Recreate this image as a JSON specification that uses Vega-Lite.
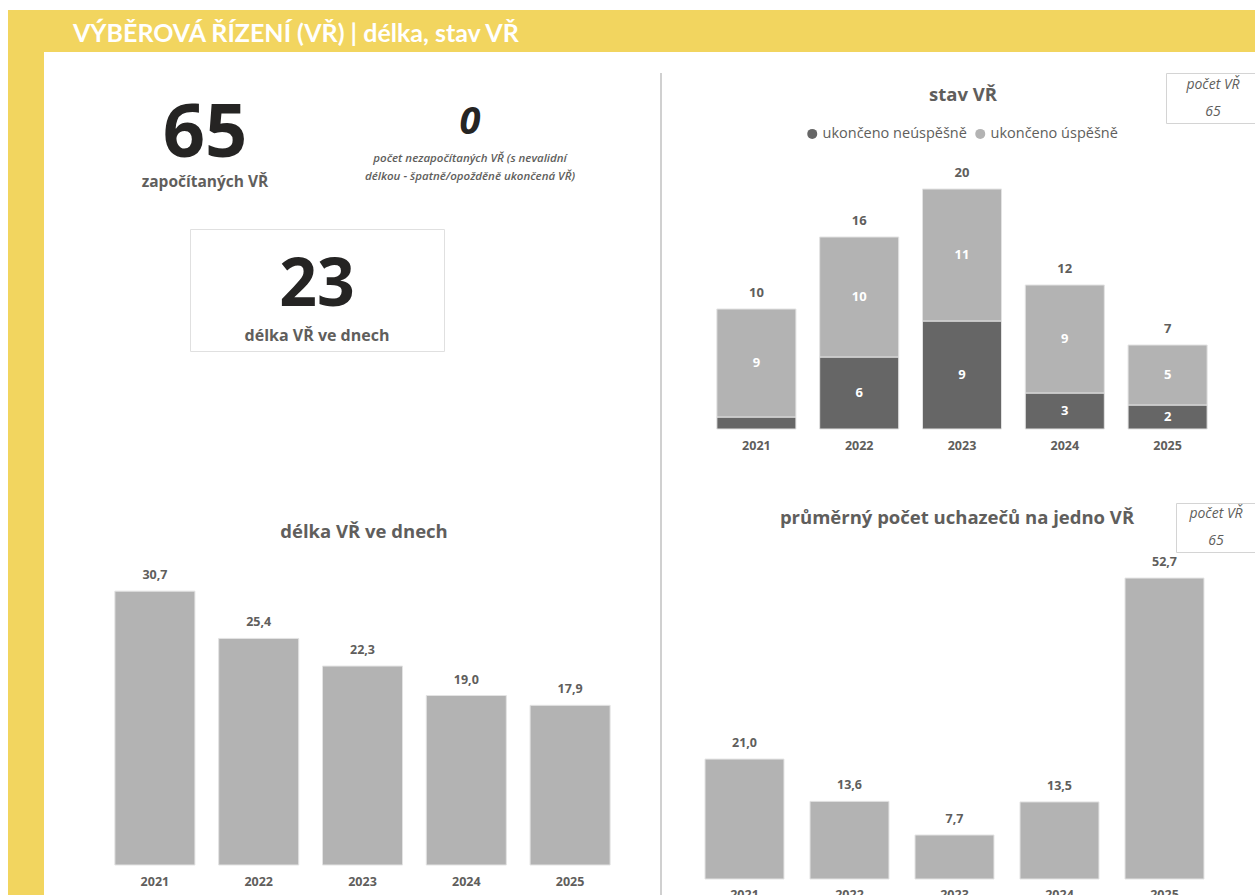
{
  "$schema": "https://vega.github.io/schema/vega-lite/v6.json",
  "background": "white",
  "padding": {"left": 8, "top": 10, "right": 0, "bottom": 0},
  "spacing": 0,
  "config": {
    "font": "Open Sans",
    "view": {"stroke": null},
    "concat": {"spacing": 0},
    "locale": {"number": {"decimal": ",", "thousands": " ", "grouping": [3], "currency": ["", " Kč"]}},
    "axis": {"ticks": false, "domain": false, "grid": false, "labelPadding": 10, "labelFontSize": 12.5, "labelFontWeight": "bold", "labelColor": "#605E5C", "labelFont": "Open Sans"}
  },
  "datasets": {
    "header": [{"text": "VÝBĚROVÁ ŘÍZENÍ (VŘ) | délka, stav VŘ"}],
    "kpi": [
      {"key": "counted", "value": "65", "label": "započítaných VŘ"},
      {"key": "uncounted", "value": "0", "line1": "počet nezapočítaných VŘ (s nevalidní", "line2": "délkou - špatně/opožděně ukončená VŘ)"},
      {"key": "length", "value": "23", "label": "délka VŘ ve dnech"},
      {"key": "count", "value": "65", "label": "počet VŘ"}
    ],
    "titles": [
      {"key": "delka", "text": "délka VŘ ve dnech"},
      {"key": "stav", "text": "stav VŘ"},
      {"key": "prum", "text": "průměrný počet uchazečů na jedno VŘ"}
    ],
    "stav": [
      {"year": "2021", "status": "ukončeno neúspěšně", "count": 1},
      {"year": "2021", "status": "ukončeno úspěšně", "count": 9},
      {"year": "2022", "status": "ukončeno neúspěšně", "count": 6},
      {"year": "2022", "status": "ukončeno úspěšně", "count": 10},
      {"year": "2023", "status": "ukončeno neúspěšně", "count": 9},
      {"year": "2023", "status": "ukončeno úspěšně", "count": 11},
      {"year": "2024", "status": "ukončeno neúspěšně", "count": 3},
      {"year": "2024", "status": "ukončeno úspěšně", "count": 9},
      {"year": "2025", "status": "ukončeno neúspěšně", "count": 2},
      {"year": "2025", "status": "ukončeno úspěšně", "count": 5}
    ],
    "delka": [
      {"year": "2021", "days": 30.7},
      {"year": "2022", "days": 25.4},
      {"year": "2023", "days": 22.3},
      {"year": "2024", "days": 19.0},
      {"year": "2025", "days": 17.9}
    ],
    "uchazeci": [
      {"year": "2021", "avg": 21.0},
      {"year": "2022", "avg": 13.6},
      {"year": "2023", "avg": 7.7},
      {"year": "2024", "avg": 13.5},
      {"year": "2025", "avg": 52.7}
    ]
  },
  "vconcat": [
    {
      "width": 1247, "height": 42,
      "view": {"fill": "#F2D55F", "stroke": null},
      "data": {"name": "header"},
      "mark": {"type": "text", "align": "left", "baseline": "alphabetic", "dx": -558.5, "dy": 11, "font": "Lato", "fontSize": 25, "fontWeight": "bold", "color": "white"},
      "encoding": {"text": {"field": "text"}}
    },
    {
      "spacing": 0,
      "hconcat": [
        {"width": 36, "height": 843, "view": {"fill": "#F2D55F", "stroke": null}, "data": {"values": []}, "mark": "point"},
        {
          "spacing": 0,
          "hconcat": [
            {
              "spacing": 0,
              "vconcat": [
                {
                  "spacing": 0,
                  "hconcat": [
                    {
                      "width": 301, "height": 176,
                      "data": {"name": "kpi"},
                      "transform": [{"filter": "datum.key === 'counted'"}],
                      "layer": [
                        {"mark": {"type": "text", "baseline": "alphabetic", "dx": 10.5, "dy": 17, "fontSize": 74, "fontWeight": "bold", "color": "#252423"}, "encoding": {"text": {"field": "value"}}},
                        {"mark": {"type": "text", "baseline": "middle", "dx": 10.5, "dy": 42, "fontSize": 15.5, "fontWeight": "bold", "color": "#605E5C"}, "encoding": {"text": {"field": "label"}}}
                      ]
                    },
                    {
                      "width": 250, "height": 176,
                      "data": {"name": "kpi"},
                      "transform": [{"filter": "datum.key === 'uncounted'"}],
                      "layer": [
                        {"mark": {"type": "text", "baseline": "alphabetic", "dy": -6, "fontSize": 38, "fontWeight": "bold", "fontStyle": "italic", "color": "#252423"}, "encoding": {"text": {"field": "value"}}},
                        {"mark": {"type": "text", "baseline": "middle", "dy": 19, "fontSize": 11.5, "fontWeight": 600, "fontStyle": "italic", "color": "#605E5C"}, "encoding": {"text": {"field": "line1"}}},
                        {"mark": {"type": "text", "baseline": "middle", "dy": 37, "fontSize": 11.5, "fontWeight": 600, "fontStyle": "italic", "color": "#605E5C"}, "encoding": {"text": {"field": "line2"}}}
                      ]
                    },
                    {"width": 65, "height": 176, "data": {"values": []}, "mark": "point"}
                  ]
                },
                {
                  "spacing": 0,
                  "hconcat": [
                    {"width": 145, "height": 122, "data": {"values": []}, "mark": "point"},
                    {
                      "width": 254, "height": 122,
                      "view": {"fill": "white", "stroke": "#e0e0e0", "strokeWidth": 1},
                      "data": {"name": "kpi"},
                      "transform": [{"filter": "datum.key === 'length'"}],
                      "layer": [
                        {"mark": {"type": "text", "baseline": "alphabetic", "dy": 15.5, "fontSize": 66, "fontWeight": "bold", "color": "#252423"}, "encoding": {"text": {"field": "value"}}},
                        {"mark": {"type": "text", "baseline": "middle", "dy": 45.5, "fontSize": 16, "fontWeight": "bold", "color": "#605E5C"}, "encoding": {"text": {"field": "label"}}}
                      ]
                    }
                  ]
                },
                {
                  "width": 616, "height": 199,
                  "data": {"name": "titles"},
                  "transform": [{"filter": "datum.key === 'delka'"}],
                  "mark": {"type": "text", "baseline": "middle", "dx": 12, "dy": 80, "fontSize": 18.5, "fontWeight": "bold", "color": "#605E5C"},
                  "encoding": {"text": {"field": "text"}}
                },
                {
                  "spacing": 0,
                  "hconcat": [
                    {"width": 59, "height": 314, "data": {"values": []}, "mark": "point"},
                    {
                      "width": 519, "height": 314,
                      "data": {"name": "delka"},
                      "encoding": {
                        "x": {"field": "year", "type": "nominal", "scale": {"paddingInner": 0.229, "paddingOuter": 0.1145}, "axis": {"title": null, "labelAngle": 0}},
                        "y": {"field": "days", "type": "quantitative", "scale": {"domain": [0, 35.2], "nice": false}, "axis": null}
                      },
                      "layer": [
                        {"mark": {"type": "bar", "color": "#B3B3B3", "stroke": "#e3e3e3", "strokeWidth": 1}},
                        {"mark": {"type": "text", "baseline": "middle", "dy": -16, "fontSize": 12.5, "fontWeight": "bold", "color": "#605E5C"}, "encoding": {"text": {"field": "days", "type": "quantitative", "format": ".1f"}}}
                      ]
                    }
                  ]
                }
              ]
            },
            {
              "spacing": 0,
              "vconcat": [
                {"width": 2, "height": 21, "data": {"values": []}, "mark": "point"},
                {"width": 2, "height": 830, "view": {"fill": "#D0D0D0", "stroke": null}, "data": {"values": []}, "mark": "point"}
              ]
            },
            {
              "spacing": 0,
              "vconcat": [
                {"width": 1, "height": 20, "data": {"values": []}, "mark": "point"},
                {
                  "spacing": 0,
                  "hconcat": [
                    {
                      "width": 503, "height": 50,
                      "data": {"name": "titles"},
                      "transform": [{"filter": "datum.key === 'stav'"}],
                      "mark": {"type": "text", "baseline": "middle", "dx": 49.5, "dy": -3, "fontSize": 18.5, "fontWeight": "bold", "color": "#605E5C"},
                      "encoding": {"text": {"field": "text"}}
                    },
                    {
                      "width": 94, "height": 50,
                      "view": {"fill": "white", "stroke": "#d4d4d4", "strokeWidth": 1},
                      "data": {"name": "kpi"},
                      "transform": [{"filter": "datum.key === 'count'"}],
                      "layer": [
                        {"mark": {"type": "text", "baseline": "middle", "dy": -13, "fontSize": 14, "fontStyle": "italic", "color": "#605E5C"}, "encoding": {"text": {"field": "label"}}},
                        {"mark": {"type": "text", "baseline": "middle", "dy": 13.5, "fontSize": 14, "fontStyle": "italic", "color": "#605E5C"}, "encoding": {"text": {"field": "value"}}}
                      ]
                    }
                  ]
                },
                {
                  "spacing": 0,
                  "hconcat": [
                    {"width": 43, "height": 305, "data": {"values": []}, "mark": "point"},
                    {
                      "width": 514, "height": 305,
                      "data": {"name": "stav"},
                      "encoding": {
                        "x": {"field": "year", "type": "nominal", "scale": {"paddingInner": 0.231, "paddingOuter": 0.1155}, "axis": {"title": null, "labelAngle": 0}}
                      },
                      "layer": [
                        {
                          "mark": {"type": "bar", "stroke": "#e3e3e3", "strokeWidth": 1},
                          "encoding": {
                            "y": {"field": "count", "type": "quantitative", "stack": "zero", "scale": {"domain": [0, 25.42], "nice": false}, "axis": null},
                            "color": {
                              "field": "status", "type": "nominal",
                              "scale": {"domain": ["ukončeno neúspěšně", "ukončeno úspěšně"], "range": ["#666666", "#B3B3B3"]},
                              "legend": {"orient": "none", "legendX": 797, "legendY": 116.5, "direction": "horizontal", "title": null, "symbolType": "circle", "symbolSize": 100, "symbolStrokeWidth": 0, "labelFontSize": 14.5, "labelColor": "#605E5C", "labelFont": "Open Sans", "labelOffset": 3, "columnPadding": 6, "padding": 0}
                            },
                            "order": {"field": "status", "sort": "ascending"}
                          }
                        },
                        {
                          "mark": {"type": "text", "baseline": "middle", "color": "white", "fontSize": 13, "fontWeight": "bold"},
                          "encoding": {
                            "y": {"field": "count", "type": "quantitative", "stack": "zero", "bandPosition": 0.5, "scale": {"domain": [0, 25.42], "nice": false}, "axis": null},
                            "detail": {"field": "status"},
                            "order": {"field": "status", "sort": "ascending"},
                            "text": {"condition": {"test": "datum.count < 2", "value": ""}, "field": "count", "type": "quantitative"}
                          }
                        },
                        {
                          "mark": {"type": "text", "baseline": "middle", "dy": -16, "fontSize": 13, "fontWeight": "bold", "color": "#605E5C"},
                          "encoding": {
                            "y": {"aggregate": "sum", "field": "count", "type": "quantitative", "scale": {"domain": [0, 25.42], "nice": false}, "axis": null},
                            "text": {"aggregate": "sum", "field": "count", "type": "quantitative"}
                          }
                        }
                      ]
                    }
                  ]
                },
                {"width": 1, "height": 50, "data": {"values": []}, "mark": "point"},
                {
                  "spacing": 0,
                  "hconcat": [
                    {
                      "width": 513, "height": 49,
                      "data": {"name": "titles"},
                      "transform": [{"filter": "datum.key === 'prum'"}],
                      "mark": {"type": "text", "baseline": "middle", "dx": 38.5, "dy": -9.5, "fontSize": 18.5, "fontWeight": "bold", "color": "#605E5C"},
                      "encoding": {"text": {"field": "text"}}
                    },
                    {
                      "width": 80, "height": 49,
                      "view": {"fill": "white", "stroke": "#d4d4d4", "strokeWidth": 1},
                      "data": {"name": "kpi"},
                      "transform": [{"filter": "datum.key === 'count'"}],
                      "layer": [
                        {"mark": {"type": "text", "baseline": "middle", "dy": -13.5, "fontSize": 14, "fontStyle": "italic", "color": "#605E5C"}, "encoding": {"text": {"field": "label"}}},
                        {"mark": {"type": "text", "baseline": "middle", "dy": 13.5, "fontSize": 14, "fontStyle": "italic", "color": "#605E5C"}, "encoding": {"text": {"field": "value"}}}
                      ]
                    }
                  ]
                },
                {
                  "spacing": 0,
                  "hconcat": [
                    {"width": 30, "height": 326, "data": {"values": []}, "mark": "point"},
                    {
                      "width": 525, "height": 326,
                      "data": {"name": "uchazeci"},
                      "encoding": {
                        "x": {"field": "year", "type": "nominal", "scale": {"paddingInner": 0.248, "paddingOuter": 0.124}, "axis": {"title": null, "labelAngle": 0, "labelPadding": 9}},
                        "y": {"field": "avg", "type": "quantitative", "scale": {"domain": [0, 57.09], "nice": false}, "axis": null}
                      },
                      "layer": [
                        {"mark": {"type": "bar", "color": "#B3B3B3", "stroke": "#e3e3e3", "strokeWidth": 1}},
                        {"mark": {"type": "text", "baseline": "middle", "dy": -16, "fontSize": 12.5, "fontWeight": "bold", "color": "#605E5C"}, "encoding": {"text": {"field": "avg", "type": "quantitative", "format": ".1f"}}}
                      ]
                    }
                  ]
                }
              ]
            }
          ]
        }
      ]
    }
  ]
}
